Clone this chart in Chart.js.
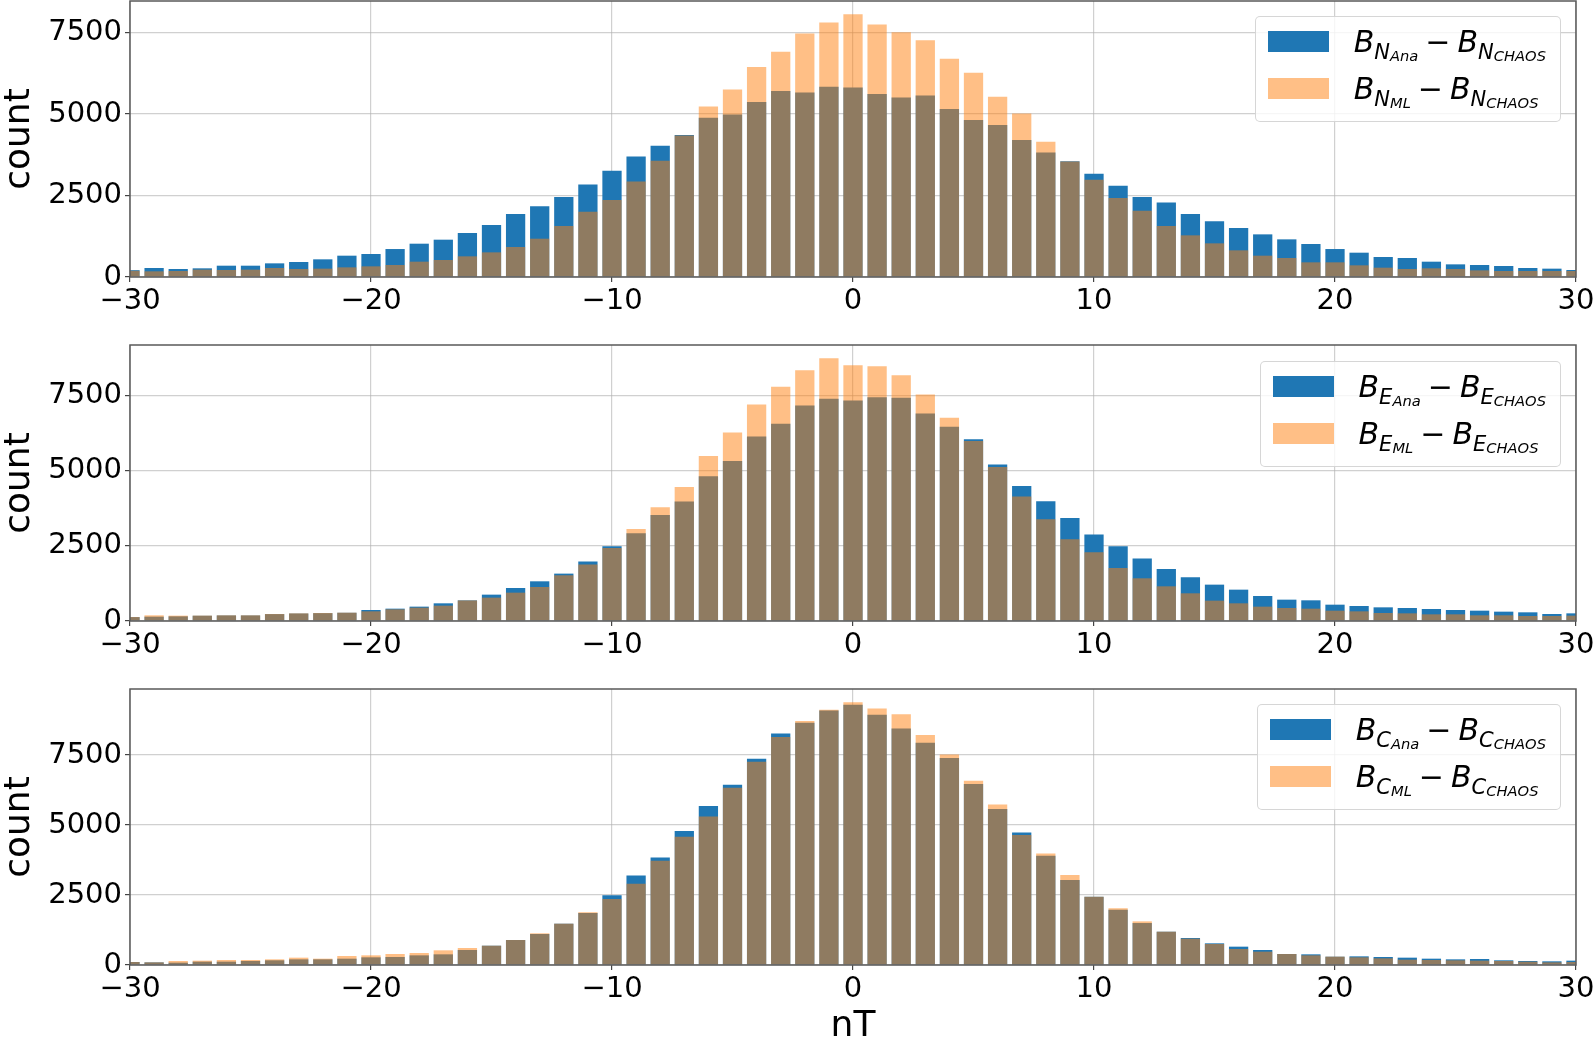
<!DOCTYPE html>
<html><head><meta charset="utf-8">
<script src="https://cdn.jsdelivr.net/npm/chart.js@4.4.0/dist/chart.umd.min.js"></script>
<style>
html,body{margin:0;padding:0;background:#fff;}
#wrap{position:relative;width:1594px;height:1041px;overflow:hidden;background:#fff;}
canvas{position:absolute;left:0;}
.leg{position:absolute;right:33px;padding:0 14px 10px 0;border:1px solid rgba(204,204,204,0.8);border-radius:5px;background:rgba(255,255,255,0.8);font-family:'DejaVu Sans',sans-serif;z-index:5;}
.row{position:relative;height:47px;padding-left:98px;}
.patch{position:absolute;left:12px;top:14px;width:61px;height:21px;}
.txt{display:block;font-size:30px;line-height:30px;padding-top:9.6px;white-space:nowrap;color:#000;}
.i{font-style:italic;}
.s1{font-size:21px;vertical-align:-7px;line-height:1;}
.s2{font-size:14.7px;vertical-align:-2px;line-height:1;}
.op{margin:0 7px;font-style:normal;}
</style></head>
<body>
<div id="wrap"></div>
<script>
// ---- data ----
const bins = [-30,-29,-28,-27,-26,-25,-24,-23,-22,-21,-20,-19,-18,-17,-16,-15,-14,-13,-12,-11,-10,-9,-8,-7,-6,-5,-4,-3,-2,-1,0,1,2,3,4,5,6,7,8,9,10,11,12,13,14,15,16,17,18,19,20,21,22,23,24,25,26,27,28,29,30];
const xTicks = [-30,-20,-10,0,10,20,30];
const yTicks = [0,2500,5000,7500];

const nAna = [210,276,245,266,347,347,419,460,542,654,705,858,1022,1145,1349,1594,1932,2167,2453,2841,3260,3700,4027,4360,4885,4988,5366,5703,5662,5836,
  5815,5611,5509,5570,5151,4814,4660,4200,3822,3550,3168,2800,2453,2289,1932,1707,1502,1308,1155,1012,858,746,613,583,470,388,368,337,276,256,215];
const nML = [190,174,184,225,215,225,276,245,256,296,327,368,470,521,634,756,920,1175,1564,2003,2361,2933,3567,4340,5233,5754,6439,6909,7471,7808,
  8064,7747,7512,7266,6694,6265,5529,5018,4149,3540,2984,2422,2034,1564,1278,1032,818,654,583,450,450,358,286,245,266,245,204,184,184,184,184];

const eAna = [130,144,155,175,185,185,230,250,262,275,367,411,478,589,689,878,1100,1322,1578,1978,2489,2922,3533,3977,4822,5333,6144,6566,7177,7399,
  7344,7455,7433,6910,6466,6055,5211,4500,3988,3433,2877,2489,2078,1733,1455,1211,1044,833,711,689,544,500,455,433,400,367,344,311,289,233,255];
const eML = [133,189,178,180,189,189,233,255,267,278,322,389,444,511,685,778,944,1133,1522,1878,2433,3066,3789,4466,5499,6277,7210,7799,8355,8755,
  8521,8488,8188,7544,6766,5999,5133,4144,3389,2722,2289,1767,1422,1155,922,678,589,478,433,411,344,322,267,255,222,222,189,189,167,167,178];

const cAna = [107,95,83,119,119,143,167,202,202,226,274,286,345,381,536,690,893,1107,1476,1856,2487,3201,3844,4784,5676,6438,7366,8271,8651,9092,
  9294,8937,8449,7937,7390,6462,5569,4736,3903,3035,2440,1975,1499,1190,964,774,655,536,393,381,298,309,286,262,226,202,214,167,143,131,155];
const cML = [107,95,143,155,179,179,202,262,226,321,345,393,428,524,607,690,893,1131,1476,1880,2356,2904,3725,4582,5307,6331,7259,8140,8711,9115,
  9389,9163,8961,8211,7521,6581,5736,4641,3987,3213,2440,2023,1559,1190,940,750,571,476,393,345,298,274,238,190,179,167,155,143,119,95,107];

const legendComps = ['N','E','C'];

// ---- drawing ----
Chart.defaults.font.family = "'DejaVu Sans', sans-serif";
Chart.defaults.color = '#000';
const wrap = document.getElementById('wrap');
const gridColor = 'rgba(176,176,176,0.6)';
const fmt = v => v < 0 ? '\u2212' + Math.abs(v) : String(v);

const frame = {
  id: 'frame',
  afterDraw(c) {
    const {ctx, chartArea: a} = c;
    ctx.save();
    ctx.strokeStyle = '#5a5a5a';
    ctx.lineWidth = 1.5;
    ctx.strokeRect(a.left, a.top, a.right - a.left, a.bottom - a.top);
    ctx.restore();
  }
};

function make(top, h, xH, ana, ml, xTitle) {
  const cv = document.createElement('canvas');
  cv.width = 1594; cv.height = h;
  cv.style.top = top + 'px';
  cv.style.width = '1594px'; cv.style.height = h + 'px';
  wrap.appendChild(cv);
  const ymax = Math.max(...ana, ...ml) * 1.05;
  new Chart(cv, {
    type: 'bar',
    data: {
      datasets: [
        {label: 'ana', data: bins.map((x, i) => ({x: x, y: ana[i]})), backgroundColor: '#1f77b4',
         order: 2, grouped: false, barPercentage: 0.8, categoryPercentage: 1.0, borderWidth: 0},
        {label: 'ml', data: bins.map((x, i) => ({x: x, y: ml[i]})), backgroundColor: 'rgba(255,127,14,0.5)',
         order: 1, grouped: false, barPercentage: 0.8, categoryPercentage: 1.0, borderWidth: 0}
      ]
    },
    options: {
      responsive: false, animation: false, devicePixelRatio: 1,
      layout: {padding: {top: 1, right: 18, left: 0, bottom: 0}},
      plugins: {legend: {display: false}, tooltip: {enabled: false}},
      scales: {
        x: {
          type: 'linear', min: -30, max: 30, offset: false, z: 1,
          grid: {offset: false, color: gridColor, lineWidth: 1.2, tickLength: 5, tickColor: '#444', tickWidth: 1.2},
          border: {display: false},
          ticks: {stepSize: 10, font: {size: 29}, color: '#000', padding: 2, maxRotation: 0, autoSkip: false, callback: v => fmt(v)},
          afterBuildTicks: s => { s.ticks = xTicks.map(v => ({value: v})); },
          afterFit: s => { s.height = xH; s.paddingLeft = 0; s.paddingRight = 0; },
          title: xTitle ? {display: true, text: xTitle, font: {size: 36, lineHeight: 0.8}, padding: 0, color: '#000'} : {display: false}
        },
        y: {
          type: 'linear', min: 0, max: ymax, z: 1,
          grid: {color: gridColor, lineWidth: 1.2, tickLength: 5, tickColor: '#444', tickWidth: 1.2},
          border: {display: false},
          ticks: {font: {size: 29}, color: '#000', padding: 3, callback: v => String(v)},
          afterBuildTicks: s => { s.ticks = yTicks.map(v => ({value: v})); },
          afterFit: s => { s.width = 130; s.paddingTop = 0; s.paddingBottom = 0; },
          title: {display: true, text: 'count', font: {size: 36, lineHeight: 1}, padding: {top: 2, bottom: 0}, color: '#000'}
        }
      }
    },
    plugins: [frame]
  });
}

function legend(top, comp) {
  const d = document.createElement('div');
  d.className = 'leg';
  d.style.top = top + 'px';
  const row = (color, sub) =>
    '<div class="row"><div class="patch" style="background:' + color + '"></div>' +
    '<span class="txt"><span class="i">B<span class="s1">' + comp + '<span class="s2">' + sub + '</span></span></span>' +
    '<span class="op">\u2212</span>' +
    '<span class="i">B<span class="s1">' + comp + '<span class="s2">CHAOS</span></span></span></span></div>';
  d.innerHTML = row('#1f77b4', 'Ana') + row('rgba(255,127,14,0.5)', 'ML');
  wrap.appendChild(d);
}

make(0, 344, 67, nAna, nML, null);
make(344, 344, 67, eAna, eML, null);
make(688, 353, 76, cAna, cML, 'nT');
legend(16, legendComps[0]);
legend(361, legendComps[1]);
legend(704, legendComps[2]);
</script>
</body></html>
